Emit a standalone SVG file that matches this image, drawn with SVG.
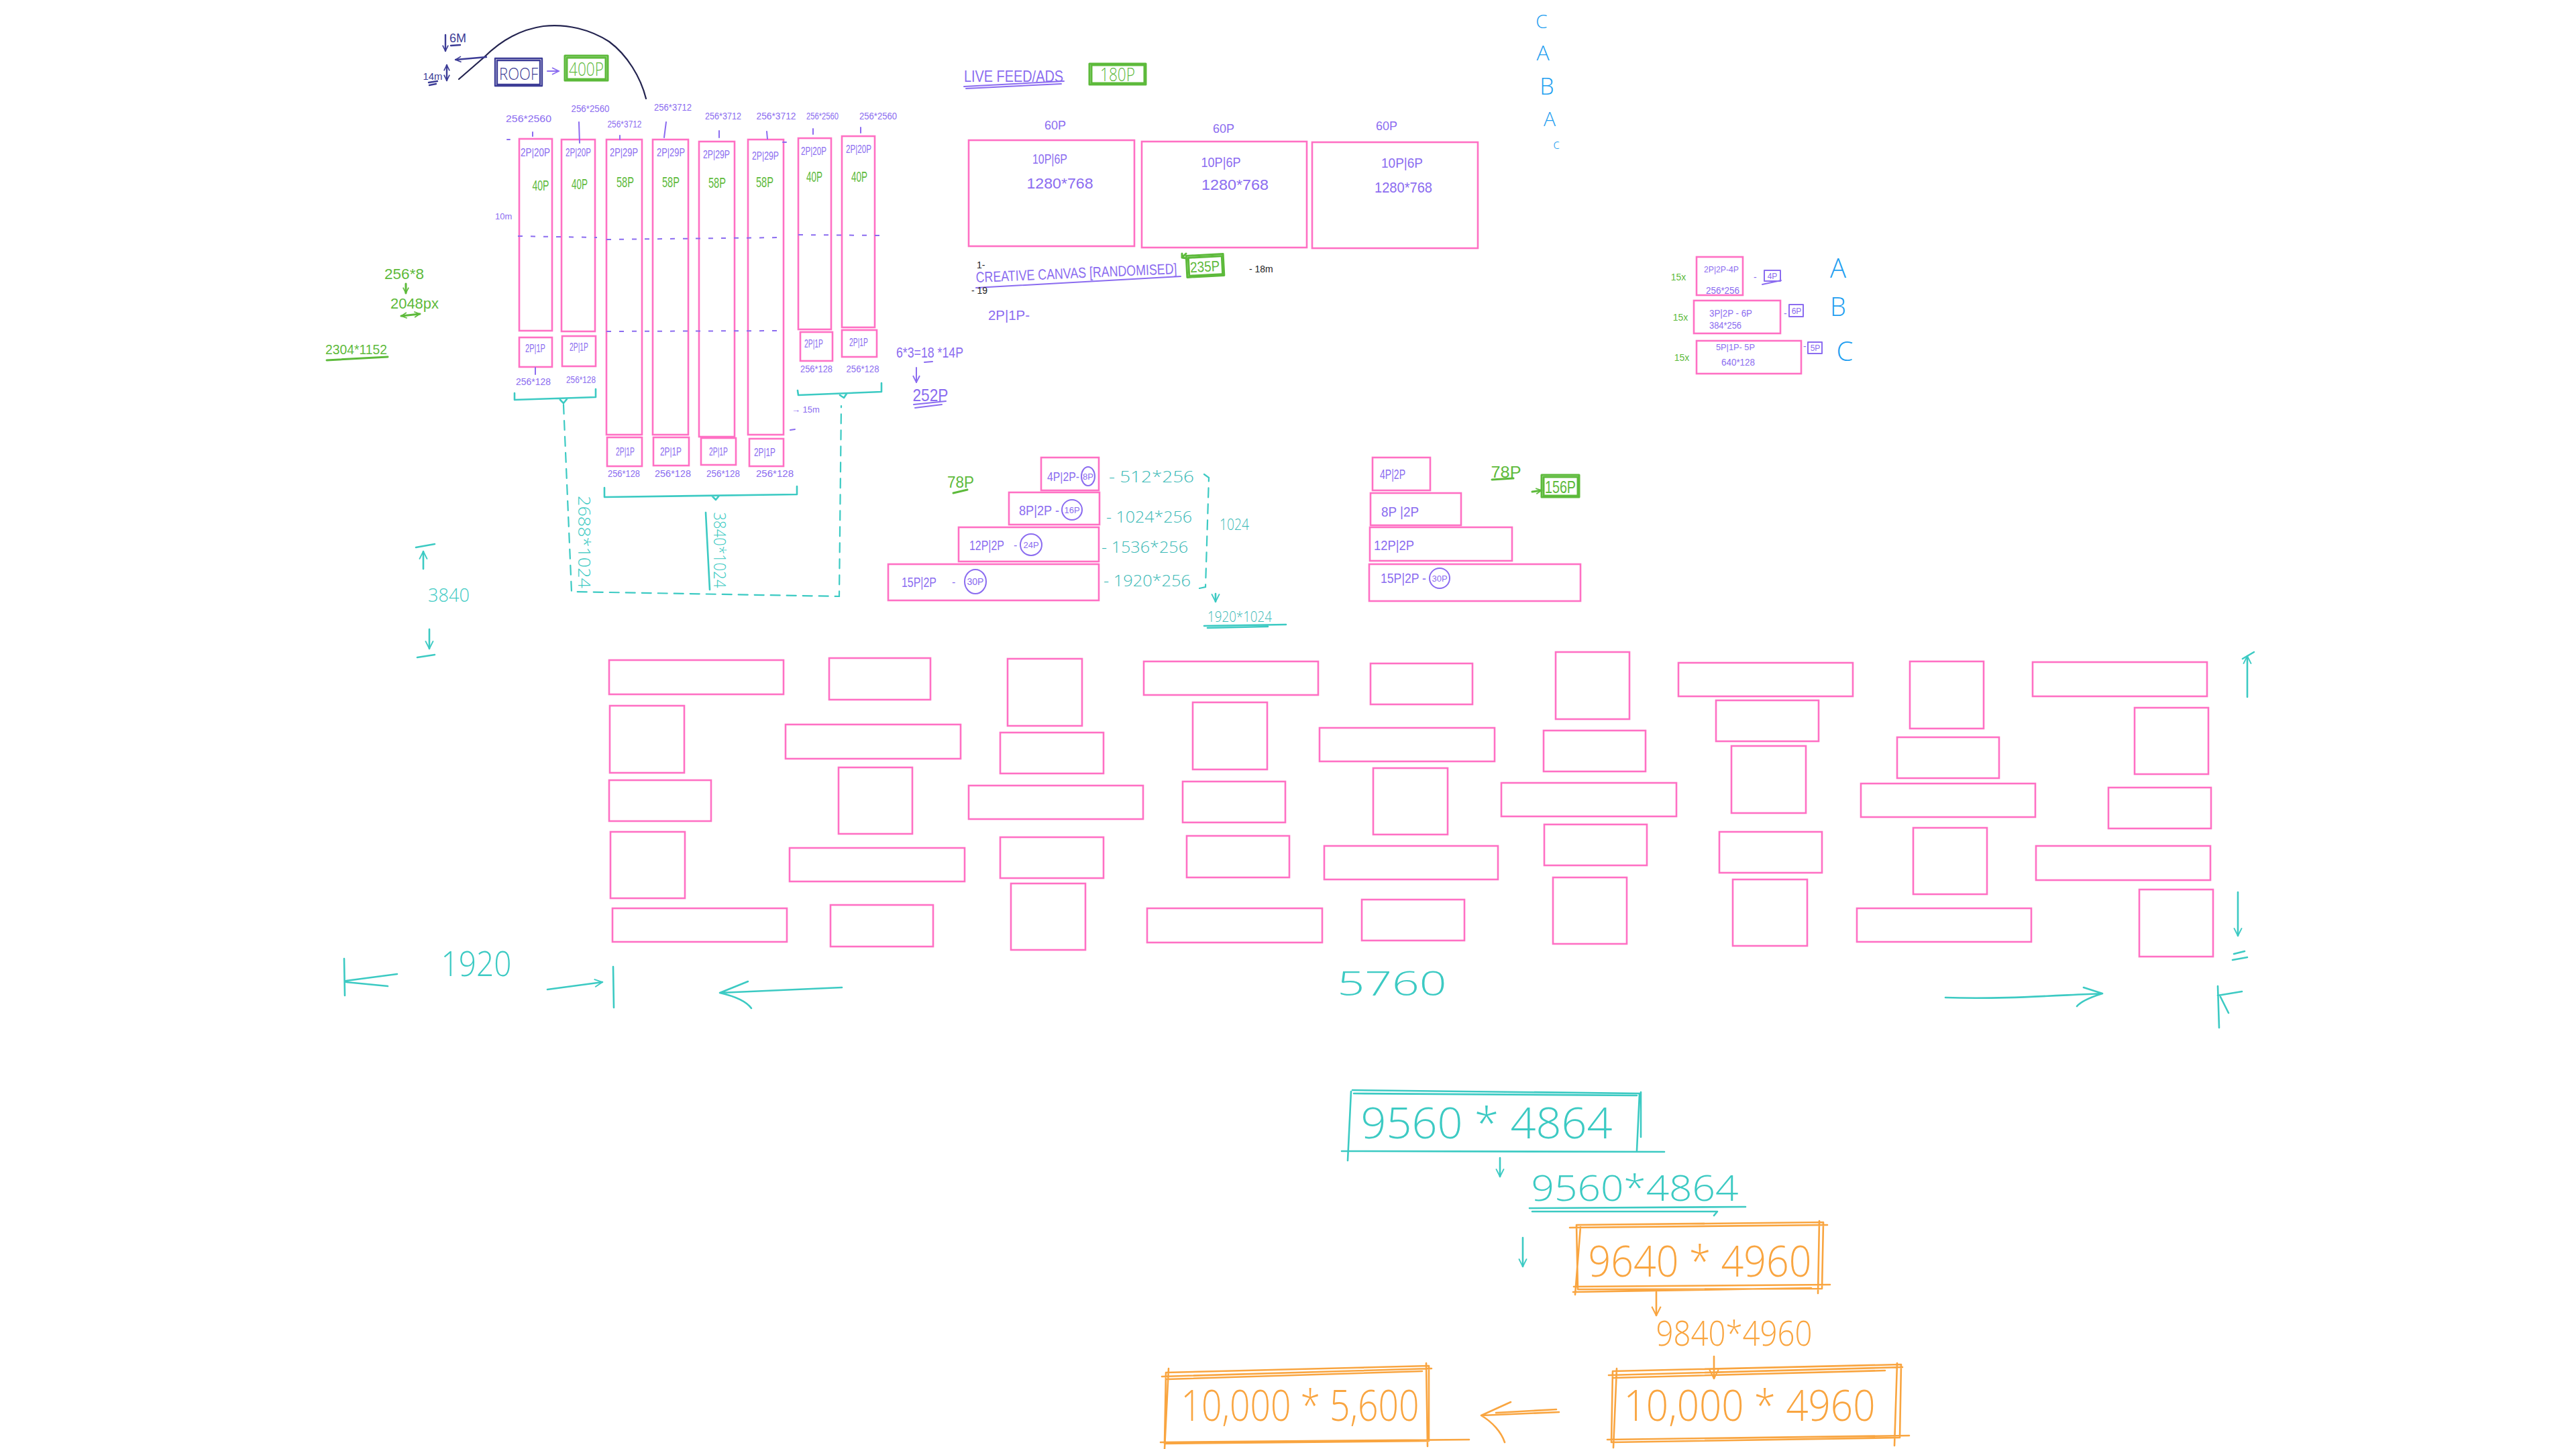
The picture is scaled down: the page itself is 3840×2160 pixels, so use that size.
<svg xmlns="http://www.w3.org/2000/svg" width="3840" height="2160" viewBox="0 0 3840 2160">
<style>
text{font-family:"Liberation Sans",Arial,sans-serif}
.lt{font-family:"Open Sans","Lato","Liberation Sans",sans-serif;font-weight:300}
.pu{fill:#8b6cf0}
.gr{fill:#5dba3b}
.te{fill:#3ccac3}
.tt{fill:#3ab9b6}
.or{fill:#f9a540}
.bl{fill:#1e9ef0}
.nv{fill:#3c3c96}
.bk{fill:#222}
.m{text-anchor:middle}
.pk{fill:none;stroke:#ff70c4;stroke-width:2.6}
.sP{fill:none;stroke:#8b6cf0;stroke-width:2;stroke-linecap:round;stroke-linejoin:round}
.sG{fill:none;stroke:#5dba3b;stroke-width:3;stroke-linecap:round;stroke-linejoin:round}
.sT{fill:none;stroke:#3ccac3;stroke-width:2.6;stroke-linecap:round;stroke-linejoin:round}
.sTd{fill:none;stroke:#3ccac3;stroke-width:2.2;stroke-dasharray:14 10;stroke-linecap:round}
.sPd{fill:none;stroke:#8b6cf0;stroke-width:2;stroke-dasharray:7 12}
.sO{fill:none;stroke:#f9a540;stroke-width:2.6;stroke-linecap:round;stroke-linejoin:round}
.sN{fill:none;stroke:#3c3c96;stroke-width:2.4;stroke-linecap:round;stroke-linejoin:round}
.sA{fill:none;stroke:#23234f;stroke-width:2.2;stroke-linecap:round}
</style>
<defs>
<marker id="aT" viewBox="0 0 12 12" refX="11" refY="6" markerWidth="14" markerHeight="14" markerUnits="userSpaceOnUse" orient="auto-start-reverse"><path d="M1,1 L11,6 L1,11" fill="none" stroke="#3ccac3" stroke-width="1.6"/></marker>
<marker id="aO" viewBox="0 0 12 12" refX="11" refY="6" markerWidth="16" markerHeight="16" markerUnits="userSpaceOnUse" orient="auto-start-reverse"><path d="M1,1 L11,6 L1,11" fill="none" stroke="#f9a540" stroke-width="1.6"/></marker>
<marker id="aP" viewBox="0 0 12 12" refX="11" refY="6" markerWidth="12" markerHeight="12" markerUnits="userSpaceOnUse" orient="auto-start-reverse"><path d="M1,1 L11,6 L1,11" fill="none" stroke="#8b6cf0" stroke-width="1.8"/></marker>
<marker id="aG" viewBox="0 0 12 12" refX="11" refY="6" markerWidth="10" markerHeight="10" markerUnits="userSpaceOnUse" orient="auto-start-reverse"><path d="M1,1 L11,6 L1,11" fill="none" stroke="#5dba3b" stroke-width="2"/></marker>
<marker id="aN" viewBox="0 0 12 12" refX="11" refY="6" markerWidth="10" markerHeight="10" markerUnits="userSpaceOnUse" orient="auto-start-reverse"><path d="M1,1 L11,6 L1,11" fill="none" stroke="#3c3c96" stroke-width="2"/></marker>
</defs>
<rect width="3840" height="2160" fill="#ffffff"/>

<g id="roof-notes">
<text x="670" y="63" font-size="18" class="nv">6M</text>
<text x="645" y="119" font-size="15" class="nv m">14m</text>
<path class="sN" d="M672,68 L686,67 M639,123 L652,121 M640,127 L650,125"/>
</g>
<g id="roof">
<rect x="738" y="87" width="70" height="41" class="sN"/>
<rect x="741" y="90" width="64" height="36" class="sN" stroke-width="1.6"/>
<text x="773" y="119" font-size="25" class="nv m lt" textLength="58" lengthAdjust="spacingAndGlyphs">ROOF</text>
</g>
<g id="roof-400p">
<rect x="842" y="83" width="64" height="37" class="sG"/>
<rect x="845" y="86" width="58" height="32" class="sG" stroke-width="1.6"/>
<text x="874" y="113" font-size="28" class="gr m lt" textLength="52" lengthAdjust="spacingAndGlyphs">400P</text>
</g>

<g id="col1">
<rect x="774" y="207" width="49" height="286" class="pk"/>
<rect x="774" y="503" width="49" height="44" class="pk"/>
<text x="798" y="233" font-size="16" class="pu m" textLength="44" lengthAdjust="spacingAndGlyphs">2P|20P</text>
<text x="806" y="284" font-size="22" class="gr m" textLength="25" lengthAdjust="spacingAndGlyphs">40P</text>
<text x="798" y="525" font-size="16" class="pu m" textLength="30" lengthAdjust="spacingAndGlyphs">2P|1P</text>
<text x="788" y="182" font-size="14" class="pu m" textLength="68" lengthAdjust="spacingAndGlyphs">256*2560</text>
<text x="795" y="574" font-size="14" class="pu m" textLength="52" lengthAdjust="spacingAndGlyphs">256*128</text>
</g>
<g id="col2">
<rect x="837" y="208" width="50" height="286" class="pk"/>
<rect x="838" y="501" width="50" height="45" class="pk"/>
<text x="862" y="233" font-size="16" class="pu m" textLength="38" lengthAdjust="spacingAndGlyphs">2P|20P</text>
<text x="864" y="282" font-size="22" class="gr m" textLength="24" lengthAdjust="spacingAndGlyphs">40P</text>
<text x="863" y="523" font-size="16" class="pu m" textLength="28" lengthAdjust="spacingAndGlyphs">2P|1P</text>
<text x="880" y="167" font-size="14" class="pu m" textLength="57" lengthAdjust="spacingAndGlyphs">256*2560</text>
<text x="866" y="571" font-size="14" class="pu m" textLength="44" lengthAdjust="spacingAndGlyphs">256*128</text>
</g>
<g id="col3">
<rect x="904" y="208" width="53" height="440" class="pk"/>
<rect x="905" y="652" width="52" height="43" class="pk"/>
<text x="930" y="233" font-size="16" class="pu m" textLength="42" lengthAdjust="spacingAndGlyphs">2P|29P</text>
<text x="932" y="279" font-size="22" class="gr m" textLength="26" lengthAdjust="spacingAndGlyphs">58P</text>
<text x="932" y="679" font-size="16" class="pu m" textLength="28" lengthAdjust="spacingAndGlyphs">2P|1P</text>
<text x="931" y="190" font-size="14" class="pu m" textLength="51" lengthAdjust="spacingAndGlyphs">256*3712</text>
<text x="930" y="711" font-size="14" class="pu m" textLength="48" lengthAdjust="spacingAndGlyphs">256*128</text>
</g>
<g id="col4">
<rect x="973" y="208" width="53" height="440" class="pk"/>
<rect x="974" y="652" width="53" height="42" class="pk"/>
<text x="1000" y="233" font-size="16" class="pu m" textLength="42" lengthAdjust="spacingAndGlyphs">2P|29P</text>
<text x="1000" y="279" font-size="22" class="gr m" textLength="26" lengthAdjust="spacingAndGlyphs">58P</text>
<text x="1000" y="679" font-size="16" class="pu m" textLength="32" lengthAdjust="spacingAndGlyphs">2P|1P</text>
<text x="1003" y="165" font-size="14" class="pu m" textLength="56" lengthAdjust="spacingAndGlyphs">256*3712</text>
<text x="1003" y="711" font-size="14" class="pu m" textLength="54" lengthAdjust="spacingAndGlyphs">256*128</text>
</g>
<g id="col5">
<rect x="1042" y="211" width="53" height="440" class="pk"/>
<rect x="1045" y="653" width="52" height="40" class="pk"/>
<text x="1068" y="236" font-size="16" class="pu m" textLength="40" lengthAdjust="spacingAndGlyphs">2P|29P</text>
<text x="1069" y="280" font-size="22" class="gr m" textLength="26" lengthAdjust="spacingAndGlyphs">58P</text>
<text x="1071" y="679" font-size="16" class="pu m" textLength="28" lengthAdjust="spacingAndGlyphs">2P|1P</text>
<text x="1078" y="178" font-size="14" class="pu m" textLength="54" lengthAdjust="spacingAndGlyphs">256*3712</text>
<text x="1078" y="711" font-size="14" class="pu m" textLength="50" lengthAdjust="spacingAndGlyphs">256*128</text>
</g>
<g id="col6">
<rect x="1115" y="208" width="53" height="440" class="pk"/>
<rect x="1117" y="654" width="51" height="41" class="pk"/>
<text x="1141" y="238" font-size="16" class="pu m" textLength="40" lengthAdjust="spacingAndGlyphs">2P|29P</text>
<text x="1140" y="279" font-size="22" class="gr m" textLength="26" lengthAdjust="spacingAndGlyphs">58P</text>
<text x="1140" y="680" font-size="16" class="pu m" textLength="32" lengthAdjust="spacingAndGlyphs">2P|1P</text>
<text x="1157" y="178" font-size="14" class="pu m" textLength="59" lengthAdjust="spacingAndGlyphs">256*3712</text>
<text x="1155" y="711" font-size="14" class="pu m" textLength="56" lengthAdjust="spacingAndGlyphs">256*128</text>
</g>
<g id="col7">
<rect x="1190" y="206" width="49" height="285" class="pk"/>
<rect x="1193" y="495" width="48" height="43" class="pk"/>
<text x="1213" y="231" font-size="16" class="pu m" textLength="38" lengthAdjust="spacingAndGlyphs">2P|20P</text>
<text x="1214" y="271" font-size="22" class="gr m" textLength="24" lengthAdjust="spacingAndGlyphs">40P</text>
<text x="1213" y="518" font-size="16" class="pu m" textLength="28" lengthAdjust="spacingAndGlyphs">2P|1P</text>
<text x="1226" y="178" font-size="14" class="pu m" textLength="48" lengthAdjust="spacingAndGlyphs">256*2560</text>
<text x="1217" y="555" font-size="14" class="pu m" textLength="48" lengthAdjust="spacingAndGlyphs">256*128</text>
</g>
<g id="col8">
<rect x="1255" y="203" width="49" height="285" class="pk"/>
<rect x="1255" y="492" width="52" height="40" class="pk"/>
<text x="1280" y="228" font-size="16" class="pu m" textLength="38" lengthAdjust="spacingAndGlyphs">2P|20P</text>
<text x="1281" y="271" font-size="22" class="gr m" textLength="24" lengthAdjust="spacingAndGlyphs">40P</text>
<text x="1280" y="516" font-size="16" class="pu m" textLength="28" lengthAdjust="spacingAndGlyphs">2P|1P</text>
<text x="1309" y="178" font-size="14" class="pu m" textLength="56" lengthAdjust="spacingAndGlyphs">256*2560</text>
<text x="1286" y="555" font-size="14" class="pu m" textLength="49" lengthAdjust="spacingAndGlyphs">256*128</text>
</g>
<g id="column-notes">
<text x="738" y="327" font-size="13" class="pu">10m</text>
<text x="1180" y="615" font-size="13" class="pu">→ 15m</text>
<path class="sP" d="M756,208 L760,208 M1167,212 L1172,212 M1178,641 L1185,640"/>
<text x="573" y="416" font-size="22" class="gr" textLength="59" lengthAdjust="spacingAndGlyphs">256*8</text>
<text x="582" y="460" font-size="22" class="gr" textLength="72" lengthAdjust="spacingAndGlyphs">2048px</text>
<text x="485" y="528" font-size="21" class="gr" textLength="92" lengthAdjust="spacingAndGlyphs">2304*1152</text>
<path class="sG" stroke-width="2" d="M487,537 L578,532"/>
<text transform="translate(862,808) rotate(90)" font-size="25" class="te m lt" textLength="138" lengthAdjust="spacingAndGlyphs">2688*1024</text>
<text transform="translate(1064,820) rotate(90)" font-size="25" class="te m lt" textLength="113" lengthAdjust="spacingAndGlyphs">3840*1024</text>
<text x="669" y="897" font-size="28" class="te m lt" textLength="62" lengthAdjust="spacingAndGlyphs">3840</text>
</g>

<g id="live-feed-title">
<text x="1437" y="122" font-size="24" class="pu" textLength="148" lengthAdjust="spacingAndGlyphs">LIVE FEED/ADS</text>
<path class="sP" stroke-width="2.6" d="M1437,129 L1586,121 M1440,132 L1582,125"/>
</g>
<g id="live-feed-180p">
<rect x="1624" y="95" width="84" height="31" class="sG"/>
<rect x="1627" y="97" width="79" height="27" class="sG" stroke-width="1.5"/>
<text x="1666" y="121" font-size="28" class="gr m lt" textLength="52" lengthAdjust="spacingAndGlyphs">180P</text>
</g>
<g id="feed1">
<text x="1573" y="193" font-size="18" class="pu m">60P</text>
<rect x="1444" y="209" width="247" height="158" class="pk"/>
<text x="1565" y="244" font-size="20" class="pu m" textLength="52" lengthAdjust="spacingAndGlyphs">10P|6P</text>
<text x="1580" y="281" font-size="22" class="pu m" textLength="99" lengthAdjust="spacingAndGlyphs">1280*768</text>
</g>
<g id="feed2">
<text x="1824" y="198" font-size="18" class="pu m">60P</text>
<rect x="1702" y="211" width="246" height="158" class="pk"/>
<text x="1820" y="249" font-size="20" class="pu m" textLength="59" lengthAdjust="spacingAndGlyphs">10P|6P</text>
<text x="1841" y="283" font-size="22" class="pu m" textLength="100" lengthAdjust="spacingAndGlyphs">1280*768</text>
</g>
<g id="feed3">
<text x="2067" y="194" font-size="18" class="pu m">60P</text>
<rect x="1956" y="212" width="247" height="158" class="pk"/>
<text x="2090" y="250" font-size="20" class="pu m" textLength="62" lengthAdjust="spacingAndGlyphs">10P|6P</text>
<text x="2092" y="287" font-size="22" class="pu m" textLength="86" lengthAdjust="spacingAndGlyphs">1280*768</text>
</g>
<g id="creative-canvas">
<text transform="translate(1455,421) rotate(-2.5)" font-size="22" class="pu" textLength="300" lengthAdjust="spacingAndGlyphs">CREATIVE CANVAS [RANDOMISED]</text>
<path class="sP" stroke-width="2.4" d="M1455,429 L1760,412"/>
<text x="1456" y="400" font-size="14" class="bk">1-</text>
<text x="1448" y="438" font-size="14" class="bk">- 19</text>
<text x="1862" y="406" font-size="14" class="bk">- 18m</text>
<text x="1473" y="477" font-size="20" class="pu" textLength="62" lengthAdjust="spacingAndGlyphs">2P|1P-</text>
</g>
<g id="creative-235p">
<g transform="rotate(-3 1796 396)">
<rect x="1769" y="380" width="55" height="32" class="sG"/>
<rect x="1772" y="383" width="50" height="27" class="sG" stroke-width="1.4"/>
<text x="1796" y="405" font-size="22" class="gr m" textLength="44" lengthAdjust="spacingAndGlyphs">235P</text>
</g>
</g>

<g id="stair-6x3">
<text x="1336" y="533" font-size="22" class="pu" textLength="100" lengthAdjust="spacingAndGlyphs">6*3=18 *14P</text>
<path class="sP" d="M1378,540 L1390,539"/>
<text x="1387" y="598" font-size="26" class="pu m" textLength="53" lengthAdjust="spacingAndGlyphs">252P</text>
<path class="sP" stroke-width="2.4" d="M1362,603 L1410,598 M1364,608 L1404,603"/>
</g>
<g id="stair-left-1">
<rect x="1552" y="682" width="86" height="49" class="pk"/>
<text x="1561" y="717" font-size="19" class="pu" textLength="48" lengthAdjust="spacingAndGlyphs">4P|2P-</text>
<ellipse cx="1622" cy="710" rx="10" ry="14" class="sP"/>
<text x="1622" y="715" font-size="13" class="pu m">8P</text>
</g>
<g id="stair-left-2">
<rect x="1504" y="734" width="135" height="48" class="pk"/>
<text x="1519" y="768" font-size="20" class="pu" textLength="60" lengthAdjust="spacingAndGlyphs">8P|2P -</text>
<circle cx="1598" cy="760" r="15" class="sP"/>
<text x="1598" y="765" font-size="13" class="pu m">16P</text>
</g>
<g id="stair-left-3">
<rect x="1429" y="786" width="209" height="51" class="pk"/>
<text x="1445" y="820" font-size="20" class="pu" textLength="52" lengthAdjust="spacingAndGlyphs">12P|2P</text>
<text x="1511" y="818" font-size="16" class="pu">-</text>
<circle cx="1537" cy="812" r="16" class="sP"/>
<text x="1537" y="817" font-size="13" class="pu m">24P</text>
</g>
<g id="stair-left-4">
<rect x="1324" y="841" width="314" height="54" class="pk"/>
<text x="1344" y="875" font-size="20" class="pu" textLength="52" lengthAdjust="spacingAndGlyphs">15P|2P</text>
<text x="1419" y="873" font-size="16" class="pu">-</text>
<ellipse cx="1454" cy="867" rx="16" ry="18" class="sP"/>
<text x="1454" y="872" font-size="14" class="pu m">30P</text>
</g>
<g id="stair-left-notes">
<text x="1432" y="727" font-size="24" class="gr m" textLength="40" lengthAdjust="spacingAndGlyphs">78P</text>
<path class="sG" stroke-width="2" d="M1421,735 L1442,730"/>
<text x="1653" y="719" font-size="24" class="tt lt" textLength="127" lengthAdjust="spacingAndGlyphs">- 512*256</text>
<text x="1649" y="779" font-size="24" class="tt lt" textLength="128" lengthAdjust="spacingAndGlyphs">- 1024*256</text>
<text x="1642" y="824" font-size="24" class="tt lt" textLength="129" lengthAdjust="spacingAndGlyphs">- 1536*256</text>
<text x="1645" y="874" font-size="24" class="tt lt" textLength="130" lengthAdjust="spacingAndGlyphs">- 1920*256</text>
<text x="1840" y="790" font-size="24" class="tt m lt" textLength="44" lengthAdjust="spacingAndGlyphs">1024</text>
<text x="1848" y="927" font-size="22" class="tt m lt" textLength="96" lengthAdjust="spacingAndGlyphs">1920*1024</text>
<path class="sT" stroke="#3ab9b6" stroke-width="2.4" d="M1795,933 L1917,931 M1800,936 L1890,934"/>
</g>
<g id="stair-right-1">
<rect x="2046" y="682" width="86" height="49" class="pk"/>
<text x="2057" y="714" font-size="20" class="pu" textLength="38" lengthAdjust="spacingAndGlyphs">4P|2P</text>
</g>
<g id="stair-right-2">
<rect x="2043" y="735" width="135" height="48" class="pk"/>
<text x="2059" y="770" font-size="20" class="pu" textLength="56" lengthAdjust="spacingAndGlyphs">8P |2P</text>
</g>
<g id="stair-right-3">
<rect x="2042" y="786" width="212" height="50" class="pk"/>
<text x="2048" y="820" font-size="20" class="pu" textLength="60" lengthAdjust="spacingAndGlyphs">12P|2P</text>
</g>
<g id="stair-right-4">
<rect x="2041" y="841" width="315" height="55" class="pk"/>
<text x="2058" y="869" font-size="20" class="pu" textLength="68" lengthAdjust="spacingAndGlyphs">15P|2P -</text>
<circle cx="2146" cy="862" r="15" class="sP"/>
<text x="2146" y="867" font-size="13" class="pu m">30P</text>
</g>
<g id="stair-right-notes">
<text x="2245" y="712" font-size="24" class="gr m" textLength="45" lengthAdjust="spacingAndGlyphs">78P</text>
<path class="sG" stroke-width="2" d="M2224,715 L2256,713"/>
</g>
<g id="stair-156p">
<rect x="2298" y="708" width="56" height="33" class="sG"/>
<rect x="2301" y="711" width="51" height="28" class="sG" stroke-width="1.4"/>
<text x="2326" y="735" font-size="26" class="gr m" textLength="46" lengthAdjust="spacingAndGlyphs">156P</text>
</g>

<g id="abc-letters">
<text x="2298" y="42" font-size="28" class="bl m lt">C</text>
<text x="2300" y="90" font-size="32" class="bl m lt">A</text>
<text x="2306" y="141" font-size="34" class="bl m lt">B</text>
<text x="2310" y="188" font-size="30" class="bl m lt">A</text>
<text x="2320" y="222" font-size="20" class="bl m lt">c</text>
</g>
<g id="box-a">
<rect x="2529" y="383" width="69" height="57" class="pk"/>
<text x="2540" y="406" font-size="12" class="pu" textLength="52" lengthAdjust="spacingAndGlyphs">2P|2P-4P</text>
<text x="2543" y="438" font-size="14" class="pu" textLength="50" lengthAdjust="spacingAndGlyphs">256*256</text>
<text x="2502" y="418" font-size="14" class="gr m">15x</text>
<text x="2614" y="418" font-size="14" class="pu">-</text>
<rect x="2630" y="403" width="24" height="16" class="sP" stroke-width="1.6"/>
<text x="2642" y="416" font-size="12" class="pu m">4P</text>
<path class="sP" stroke-width="1.6" d="M2627,424 L2655,418"/>
<text x="2740" y="414" font-size="40" class="bl m lt">A</text>
</g>
<g id="box-b">
<rect x="2525" y="448" width="129" height="49" class="pk"/>
<text x="2548" y="472" font-size="14" class="pu" textLength="64" lengthAdjust="spacingAndGlyphs">3P|2P  - 6P</text>
<text x="2548" y="490" font-size="14" class="pu" textLength="48" lengthAdjust="spacingAndGlyphs">384*256</text>
<text x="2505" y="478" font-size="14" class="gr m">15x</text>
<text x="2659" y="472" font-size="14" class="pu">-</text>
<rect x="2667" y="454" width="21" height="18" class="sP" stroke-width="1.6"/>
<text x="2678" y="468" font-size="12" class="pu m">6P</text>
<text x="2740" y="471" font-size="38" class="bl m lt">B</text>
</g>
<g id="box-c">
<rect x="2529" y="508" width="156" height="49" class="pk"/>
<text x="2558" y="522" font-size="13" class="pu" textLength="58" lengthAdjust="spacingAndGlyphs">5P|1P-  5P</text>
<text x="2566" y="545" font-size="14" class="pu" textLength="50" lengthAdjust="spacingAndGlyphs">640*128</text>
<text x="2507" y="538" font-size="14" class="gr m">15x</text>
<text x="2688" y="521" font-size="14" class="pu">-</text>
<rect x="2695" y="510" width="21" height="17" class="sP" stroke-width="1.6"/>
<text x="2706" y="523" font-size="12" class="pu m">5P</text>
<text x="2750" y="538" font-size="40" class="bl m lt">C</text>
</g>

<g id="grid">
<rect x="908" y="984" width="260" height="51" class="pk"/>
<rect x="1236" y="981" width="151" height="62" class="pk"/>
<rect x="1502" y="982" width="111" height="100" class="pk"/>
<rect x="1705" y="986" width="260" height="50" class="pk"/>
<rect x="2043" y="989" width="152" height="61" class="pk"/>
<rect x="909" y="1052" width="111" height="100" class="pk"/>
<rect x="1171" y="1080" width="261" height="51" class="pk"/>
<rect x="1491" y="1092" width="154" height="61" class="pk"/>
<rect x="1778" y="1047" width="111" height="100" class="pk"/>
<rect x="1967" y="1085" width="261" height="50" class="pk"/>
<rect x="908" y="1163" width="152" height="61" class="pk"/>
<rect x="1250" y="1144" width="110" height="99" class="pk"/>
<rect x="1444" y="1171" width="260" height="50" class="pk"/>
<rect x="1763" y="1165" width="153" height="61" class="pk"/>
<rect x="2047" y="1145" width="111" height="99" class="pk"/>
<rect x="910" y="1240" width="111" height="99" class="pk"/>
<rect x="1177" y="1264" width="261" height="50" class="pk"/>
<rect x="1491" y="1248" width="154" height="61" class="pk"/>
<rect x="1769" y="1246" width="153" height="62" class="pk"/>
<rect x="1974" y="1261" width="259" height="50" class="pk"/>
<rect x="913" y="1354" width="260" height="50" class="pk"/>
<rect x="1238" y="1349" width="153" height="62" class="pk"/>
<rect x="1507" y="1317" width="111" height="99" class="pk"/>
<rect x="1710" y="1354" width="261" height="51" class="pk"/>
<rect x="2030" y="1341" width="153" height="61" class="pk"/>
<rect x="2319" y="972" width="110" height="100" class="pk"/>
<rect x="2502" y="988" width="260" height="50" class="pk"/>
<rect x="2847" y="986" width="110" height="100" class="pk"/>
<rect x="3030" y="987" width="260" height="51" class="pk"/>
<rect x="2301" y="1089" width="152" height="61" class="pk"/>
<rect x="2558" y="1044" width="153" height="61" class="pk"/>
<rect x="2828" y="1099" width="152" height="61" class="pk"/>
<rect x="3182" y="1055" width="110" height="99" class="pk"/>
<rect x="2238" y="1167" width="261" height="50" class="pk"/>
<rect x="2581" y="1112" width="111" height="100" class="pk"/>
<rect x="2774" y="1168" width="260" height="50" class="pk"/>
<rect x="3143" y="1174" width="153" height="61" class="pk"/>
<rect x="2302" y="1229" width="153" height="61" class="pk"/>
<rect x="2563" y="1240" width="153" height="61" class="pk"/>
<rect x="2852" y="1234" width="110" height="99" class="pk"/>
<rect x="3035" y="1261" width="260" height="51" class="pk"/>
<rect x="2315" y="1308" width="110" height="99" class="pk"/>
<rect x="2583" y="1311" width="111" height="99" class="pk"/>
<rect x="2768" y="1354" width="260" height="50" class="pk"/>
<rect x="3189" y="1326" width="110" height="100" class="pk"/>
</g>
<g id="grid-dims">
<text x="710" y="1455" font-size="52" class="te m lt" textLength="105" lengthAdjust="spacingAndGlyphs">1920</text>
<text x="2075" y="1484" font-size="50" class="te m lt" textLength="163" lengthAdjust="spacingAndGlyphs">5760</text>
</g>

<g id="total-9560-box">
<path class="sT" d="M2016,1625 L2444,1630 L2440,1715 M2014,1627 L2009,1730 M2000,1716 L2481,1717 M2446,1628 L2446,1695 M2018,1630 L2440,1633"/>
<text x="2216" y="1697" font-size="64" class="te m lt" textLength="375" lengthAdjust="spacingAndGlyphs">9560 * 4864</text>
</g>
<g id="total-9560">
<text x="2437" y="1790" font-size="54" class="te m lt" textLength="309" lengthAdjust="spacingAndGlyphs">9560*4864</text>
<path class="sT" d="M2280,1801 L2602,1799 M2284,1806 L2560,1806 L2555,1812"/>
</g>
<g id="total-9640-box">
<path class="sO" d="M2350,1826 L2718,1822 L2716,1921 L2352,1922 Z M2340,1830 L2724,1826 M2346,1918 L2728,1915 M2356,1829 L2348,1930 M2712,1820 L2710,1928 M2345,1926 L2700,1920"/>
<text x="2534" y="1903" font-size="64" class="or m lt" textLength="333" lengthAdjust="spacingAndGlyphs">9640 * 4960</text>
</g>
<g id="total-9840">
<text x="2585" y="2006" font-size="52" class="or m lt" textLength="233" lengthAdjust="spacingAndGlyphs">9840*4960</text>
</g>
<g id="total-10000-4960-box">
<path class="sO" d="M2404,2044 L2834,2034 L2832,2143 L2402,2150 Z M2398,2050 L2836,2038 M2396,2146 L2846,2140 M2410,2040 L2405,2158 M2828,2032 L2824,2155 M2404,2054 L2810,2043"/>
<text x="2608" y="2118" font-size="64" class="or m lt" textLength="375" lengthAdjust="spacingAndGlyphs">10,000 * 4960</text>
</g>
<g id="total-10000-5600-box">
<path class="sO" d="M1738,2046 L2130,2036 L2130,2148 L1736,2152 Z M1732,2052 L2134,2040 M1730,2150 L2190,2146 M1742,2040 L1736,2160 M2126,2032 L2128,2156 M1740,2056 L2120,2044"/>
<text x="1938" y="2118" font-size="64" class="or m lt" textLength="355" lengthAdjust="spacingAndGlyphs">10,000 * 5,600</text>
</g>

<g id="connectors">
<path class="sA" d="M684,118 L722,85 C745,62 775,44 810,39 C845,35 880,44 908,62 C935,82 955,115 963,147"/>
<path class="sN" d="M725,85 L679,89" marker-end="url(#aN)"/>
<path class="sN" d="M664,52 L664,76" marker-end="url(#aN)"/>
<path class="sN" d="M666,97 L666,120" marker-start="url(#aN)" marker-end="url(#aN)"/>
<path class="sP" d="M816,106 L833,106" marker-end="url(#aP)"/>
<path class="sP" d="M794,197 L794,203 M863,182 L864,213 M924,202 L924,208 M993,182 L990,205 M1072,195 L1072,205 M1143,196 L1144,207 M1212,192 L1212,200 M1283,190 L1283,198 M798,548 L798,558"/>
<path class="sPd" d="M772,352 L890,354 M904,357 L1168,354 M1190,350 L1312,351 M904,494 L1168,493"/>
<path class="sT" d="M767,586 L767,596 L888,592 L888,580 M835,596 L840,601 L845,595"/>
<path class="sT" d="M1189,582 L1190,589 L1314,584 L1314,571 M1252,589 L1258,593 L1262,587"/>
<path class="sT" d="M901,727 L901,741 L1188,737 L1188,725 M1062,740 L1067,745 L1072,739"/>
<path class="sTd" d="M840,603 L852,882 L1251,889 L1254,605"/>
<path class="sT" d="M1052,764 L1058,879"/>
<path class="sG" stroke-width="2" d="M605,423 L605,437" marker-end="url(#aG)"/>
<path class="sG" stroke-width="2" d="M598,471 L626,468" marker-start="url(#aG)" marker-end="url(#aG)"/>
<path class="sT" d="M631,848 L631,822" marker-end="url(#aT)"/>
<path class="sT" stroke-width="4" d="M620,816 L648,811"/>
<path class="sT" d="M640,938 L640,967" marker-end="url(#aT)"/>
<path class="sT" stroke-width="4" d="M622,980 L648,976"/>
<path class="sP" d="M1366,548 L1366,570" marker-end="url(#aP)"/>
<path class="sTd" stroke="#3ab9b6" stroke-width="2" stroke-dasharray="8 9" d="M1795,707 L1802,712 L1797,875 L1788,877"/>
<path class="sT" stroke="#3ab9b6" stroke-width="2" d="M1812,885 L1812,897" marker-end="url(#aT)"/>
<path class="sG" stroke-width="2" d="M2284,733 L2298,731" marker-end="url(#aG)"/>
<path class="sG" stroke-width="1.6" d="M1768,378 L1762,384 M1762,384 L1762,378 M1762,384 L1768,385"/>
<path class="sT" d="M513,1429 L514,1484 M516,1462 L592,1452 M516,1464 L578,1470"/>
<path class="sT" d="M816,1475 L898,1464" marker-end="url(#aT)"/>
<path class="sT" stroke-width="3" d="M914,1441 L915,1502"/>
<path class="sT" d="M1255,1472 L1073,1480 M1073,1480 L1115,1463 M1073,1480 C1095,1485 1112,1492 1120,1503"/>
<path class="sT" d="M2900,1487 C2980,1490 3060,1484 3134,1481 M3134,1481 L3106,1472 M3134,1481 C3115,1487 3102,1493 3096,1500"/>
<path class="sT" stroke-width="3" d="M3306,1470 L3308,1532 M3306,1484 L3342,1478 M3310,1486 L3322,1510"/>
<path class="sT" d="M3350,1039 L3350,978" marker-end="url(#aT)"/>
<path class="sT" stroke-width="4" d="M3343,982 L3360,972"/>
<path class="sT" d="M3336,1330 L3336,1395" marker-end="url(#aT)"/>
<path class="sT" stroke-width="3" d="M3330,1422 L3346,1418 M3328,1431 L3350,1427"/>
<path class="sT" d="M2236,1726 L2236,1754" marker-end="url(#aT)"/>
<path class="sT" d="M2270,1845 L2270,1888" marker-end="url(#aT)"/>
<path class="sO" d="M2469,1926 L2469,1961" marker-end="url(#aO)"/>
<path class="sO" d="M2555,2022 L2555,2055" marker-end="url(#aO)"/>
<path class="sO" stroke-width="3" d="M2324,2105 L2208,2110 M2208,2110 L2252,2090 M2208,2110 C2225,2120 2238,2135 2243,2150 M2320,2101 L2230,2106"/>
</g>
</svg>
